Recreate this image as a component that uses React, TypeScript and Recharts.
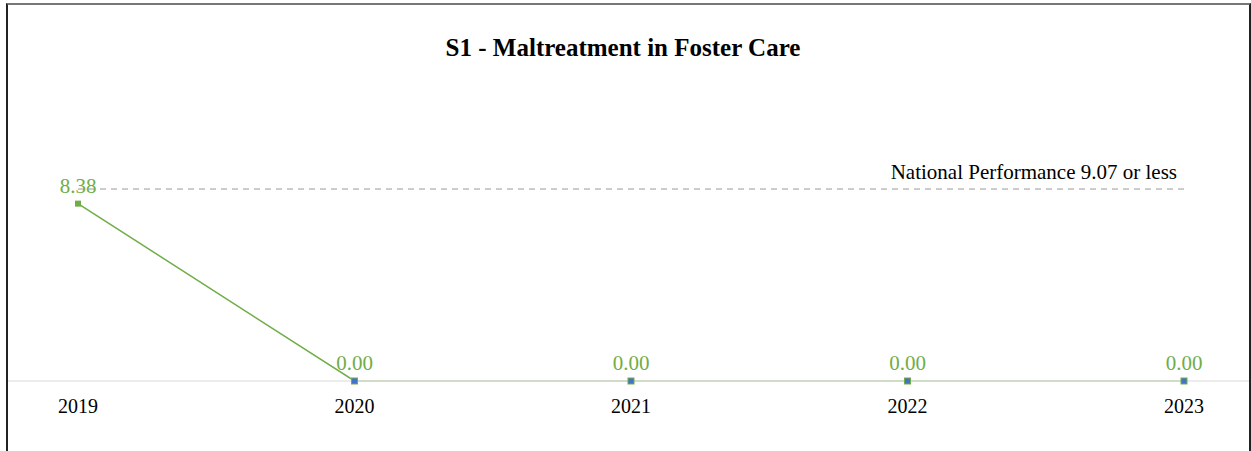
import React from "react";
import { LineChart, Line, XAxis, YAxis, ReferenceLine, LabelList } from "recharts";

const years = ["2019", "2020", "2021", "2022", "2023"];
const rates = [8.38, 0, 0, 0, 0];
const nationalPerformance = 9.07;

const data = years.map((year, i) => ({ year, rate: rates[i] }));

const GREEN = "#70ad47";
const BLUE = "#4472c4";
const FONT = "'Liberation Serif', 'Times New Roman', serif";

function SquareDot(props: any) {
  const { cx, cy, payload } = props;
  if (cx == null || cy == null) return null;
  const zero = payload.rate === 0;
  return (
    <rect
      x={cx - 3}
      y={cy - 3}
      width={6}
      height={6}
      fill={zero ? BLUE : GREEN}
      stroke={GREEN}
      strokeWidth={zero ? 1 : 0}
    />
  );
}

function NationalLabel(props: any) {
  const vb = props.viewBox || {};
  return (
    <text
      x={vb.x + vb.width - 7}
      y={vb.y - 10}
      textAnchor="end"
      fontFamily={FONT}
      fontSize={21}
      fill="#000"
    >
      National Performance {nationalPerformance.toFixed(2)} or less
    </text>
  );
}

export default function App() {
  return (
    <div style={{ position: "absolute", left: 0, top: 0, width: 1251, height: 451, background: "#fff", overflow: "hidden" }}>
      <div
        style={{
          position: "absolute",
          left: 6,
          top: 3,
          width: 1245,
          height: 470,
          boxSizing: "border-box",
          borderTop: "2px solid #777",
          borderLeft: "2px solid #222",
          borderRight: "2px solid #222",
        }}
      />
      <svg style={{ position: "absolute", left: 0, top: 0 }} width={1251} height={80}>
        <text x={623} y={56} textAnchor="middle" fontFamily={FONT} fontWeight="bold" fontSize={25} fill="#000">
          S1 - Maltreatment in Foster Care
        </text>
      </svg>
      <div style={{ position: "absolute", left: 0, top: 0 }}>
        <LineChart width={1251} height={451} data={data} margin={{ top: 127, right: 2, left: 8, bottom: 30 }}>
          <XAxis
            dataKey="year"
            height={40}
            padding={{ left: 70, right: 65 }}
            axisLine={{ stroke: "#e6e6e6", strokeWidth: 1.5 }}
            tickLine={false}
            tickMargin={12}
            tick={{ fontFamily: FONT, fontSize: 20, fill: "#000" }}
          />
          <YAxis hide domain={[0, 12]} />
          <ReferenceLine
            segment={[
              { x: years[0], y: nationalPerformance },
              { x: years[years.length - 1], y: nationalPerformance },
            ]}
            stroke="#999"
            strokeDasharray="6 5"
            label={<NationalLabel />}
          />
          <Line
            type="linear"
            dataKey="rate"
            stroke={GREEN}
            strokeWidth={1.5}
            dot={<SquareDot />}
            activeDot={false}
            isAnimationActive={false}
          >
            <LabelList
              dataKey="rate"
              position="top"
              offset={11}
              formatter={(v: any) => Number(v).toFixed(2)}
              style={{ fontFamily: FONT, fontSize: 21, fill: GREEN }}
            />
          </Line>
        </LineChart>
      </div>
    </div>
  );
}
